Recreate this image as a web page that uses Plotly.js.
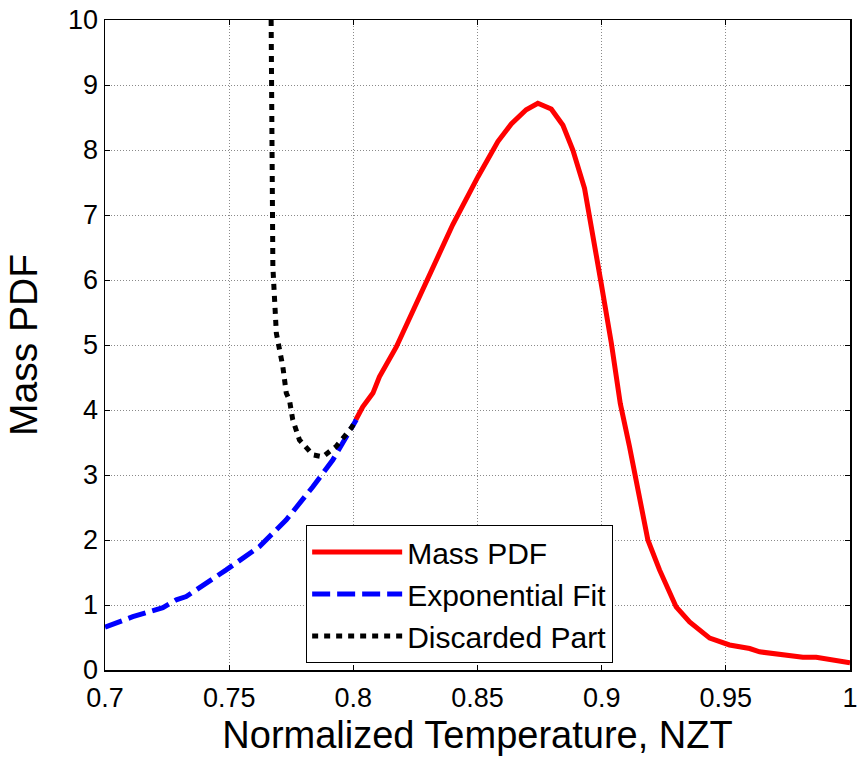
<!DOCTYPE html>
<html>
<head>
<meta charset="utf-8">
<script src="https://cdn.plot.ly/plotly-3.0.1.min.js"></script>
<style>html,body{margin:0;padding:0;background:#fff;}#chart{width:857px;height:757px;}</style>
</head>
<body>
<div id="chart"></div>
<script>
// Mass PDF (red solid)
const massX = [0.801, 0.8038, 0.8079, 0.8105, 0.8173, 0.8253, 0.8307, 0.8400, 0.8502, 0.8582, 0.8636, 0.8696, 0.8743, 0.8797, 0.8844, 0.8884, 0.8931, 0.8965, 0.8998, 0.9039, 0.9075, 0.9112, 0.9153, 0.9186, 0.9233, 0.9300, 0.9354, 0.9435, 0.9515, 0.9596, 0.9636, 0.9730, 0.9810, 0.9864, 1.0];
const massY = [3.85, 4.05, 4.26, 4.51, 4.97, 5.64, 6.08, 6.85, 7.59, 8.13, 8.40, 8.62, 8.72, 8.63, 8.38, 8.00, 7.41, 6.72, 5.95, 5.03, 4.10, 3.44, 2.67, 2.00, 1.54, 0.97, 0.74, 0.49, 0.385, 0.33, 0.28, 0.23, 0.195, 0.195, 0.11];
// Exponential fit (blue dashed)
const fitX = [0.700, 0.7112, 0.7233, 0.7287, 0.7327, 0.7408, 0.7488, 0.7622, 0.7676, 0.7730, 0.7837, 0.7917, 0.8012];
const fitY = [0.66, 0.82, 0.96, 1.08, 1.13, 1.33, 1.54, 1.90, 2.10, 2.31, 2.82, 3.23, 3.85];
// Discarded part (black dotted)
const discX = [0.7669, 0.7670, 0.7673, 0.7676, 0.7683, 0.7690, 0.7716, 0.7730, 0.7743, 0.7756, 0.7783, 0.7837, 0.7877, 0.7931, 0.7991, 0.8012];
const discY = [10.0, 9.0, 7.74, 6.20, 5.69, 5.18, 4.67, 4.26, 4.15, 3.85, 3.54, 3.31, 3.28, 3.44, 3.72, 3.85];

const xTickVals = [0.7, 0.75, 0.8, 0.85, 0.9, 0.95, 1.0];
const xTickText = ['0.7', '0.75', '0.8', '0.85', '0.9', '0.95', '1'];
const yTickVals = [0, 1, 2, 3, 4, 5, 6, 7, 8, 9, 10];
const yTickText = ['0', '1', '2', '3', '4', '5', '6', '7', '8', '9', '10'];

const FONT = 'Liberation Sans, Arial, Helvetica, sans-serif';

const traces = [
  {x: massX, y: massY, type: 'scatter', mode: 'lines', name: 'Mass PDF',
   line: {color: '#ff0000', width: 5}},
  {x: fitX, y: fitY, type: 'scatter', mode: 'lines', name: 'Exponential Fit',
   line: {color: '#0000ff', width: 5, dash: '18px,7px'}},
  {x: discX, y: discY, type: 'scatter', mode: 'lines', name: 'Discarded Part',
   line: {color: '#000000', width: 5, dash: '6px,6px'}}
];

const axisCommon = {
  showline: true, linecolor: '#000', linewidth: 1.5, mirror: 'ticks',
  ticks: 'inside', ticklen: 5, tickwidth: 1, tickcolor: '#000',
  showgrid: true, gridcolor: '#8a8a8a', gridwidth: 1, griddash: '1px,2px',
  zeroline: false, tickfont: {family: FONT, size: 27, color: '#000'},
  ticklabeloverflow: 'allow'
};

const layout = {
  width: 857, height: 757,
  margin: {l: 105, r: 7, t: 20, b: 87},
  paper_bgcolor: '#fff', plot_bgcolor: '#fff',
  font: {family: FONT, color: '#000'},
  xaxis: Object.assign({}, axisCommon, {
    range: [0.7, 1.0], tickmode: 'array', tickvals: xTickVals, ticktext: xTickText,
    ticklabelstandoff: 3,
    title: {text: 'Normalized Temperature, NZT', font: {family: FONT, size: 38, color: '#000'}, standoff: 9}
  }),
  yaxis: Object.assign({}, axisCommon, {
    range: [0, 10], tickmode: 'array', tickvals: yTickVals, ticktext: yTickText,
    title: {text: 'Mass PDF', font: {family: FONT, size: 39, color: '#000'}, standoff: 18}
  }),
  showlegend: true,
  legend: {
    x: 0.27, y: 0.223, xanchor: 'left', yanchor: 'top',
    bgcolor: '#fff', bordercolor: '#000', borderwidth: 1,
    font: {family: FONT, size: 30, color: '#000'},
    itemwidth: 90, tracegroupgap: 0
  }
};

Plotly.newPlot('chart', traces, layout, {staticPlot: true, displayModeBar: false});
</script>
</body>
</html>
